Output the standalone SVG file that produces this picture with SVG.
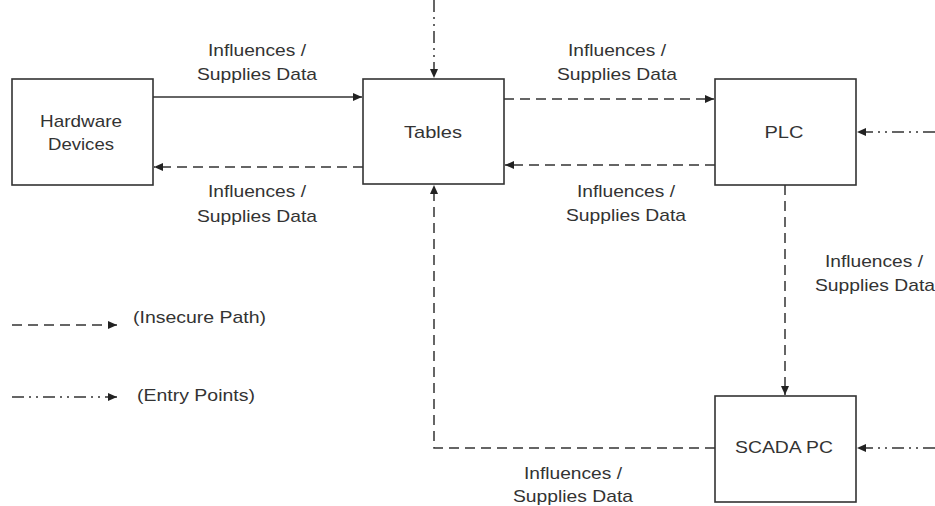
<svg xmlns="http://www.w3.org/2000/svg" width="935" height="506" viewBox="0 0 935 506">
  <defs>
    <marker id="arrow" markerUnits="userSpaceOnUse" markerWidth="10" markerHeight="8" refX="9" refY="4" orient="auto">
      <path d="M0,0 L9,4 L0,8 Z" fill="#222"/>
    </marker>
    <style>
      .box { fill: #fff; stroke: #333; stroke-width: 1.6; }
      .lbl { font-family: "Liberation Sans", Arial, sans-serif; font-size: 17px; fill: #333; text-anchor: middle; }
      .leg { font-family: "Liberation Sans", Arial, sans-serif; font-size: 17px; fill: #333; }
      .solid { fill: none; stroke: #333; stroke-width: 1.5; marker-end: url(#arrow); }
      .insecure { fill: none; stroke: #333; stroke-width: 1.5; stroke-dasharray: 10 6; marker-end: url(#arrow); }
      .entry { fill: none; stroke: #333; stroke-width: 1.5; stroke-dasharray: 12 5 2 5 2 5; marker-end: url(#arrow); }
    </style>
  </defs>
  <rect width="935" height="506" fill="#fff"/>

  <!-- connectors -->
  <g id="connectors">
    <path class="solid" d="M153,97 H362"/>
    <path class="insecure" d="M363,167 H154"/>
    <path class="insecure" d="M504,99 H714"/>
    <path class="insecure" d="M715,165 H505"/>
    <path class="insecure" d="M785,185 V395"/>
    <path class="insecure" d="M715,448 H434 V185"/>
    <path class="entry" d="M434,0 V78"/>
    <path class="entry" d="M935,132 H857"/>
    <path class="entry" d="M935,448 H857"/>
  </g>

  <!-- connector labels -->
  <g id="labels">
    <text class="lbl" x="257" y="56" textLength="98" lengthAdjust="spacingAndGlyphs">Influences /</text>
    <text class="lbl" x="257" y="80" textLength="120" lengthAdjust="spacingAndGlyphs">Supplies Data</text>
    <text class="lbl" x="257" y="197" textLength="98" lengthAdjust="spacingAndGlyphs">Influences /</text>
    <text class="lbl" x="257" y="222" textLength="120" lengthAdjust="spacingAndGlyphs">Supplies Data</text>
    <text class="lbl" x="617" y="56" textLength="98" lengthAdjust="spacingAndGlyphs">Influences /</text>
    <text class="lbl" x="617" y="80" textLength="120" lengthAdjust="spacingAndGlyphs">Supplies Data</text>
    <text class="lbl" x="626" y="197" textLength="98" lengthAdjust="spacingAndGlyphs">Influences /</text>
    <text class="lbl" x="626" y="221" textLength="120" lengthAdjust="spacingAndGlyphs">Supplies Data</text>
    <text class="lbl" x="874" y="267" textLength="98" lengthAdjust="spacingAndGlyphs">Influences /</text>
    <text class="lbl" x="875" y="291" textLength="120" lengthAdjust="spacingAndGlyphs">Supplies Data</text>
    <text class="lbl" x="573" y="479" textLength="98" lengthAdjust="spacingAndGlyphs">Influences /</text>
    <text class="lbl" x="573" y="502" textLength="120" lengthAdjust="spacingAndGlyphs">Supplies Data</text>
  </g>

  <!-- nodes -->
  <g id="hardware-devices">
    <rect class="box" x="12" y="79" width="141" height="106"/>
    <text class="lbl" x="81" y="127" textLength="82" lengthAdjust="spacingAndGlyphs">Hardware</text>
    <text class="lbl" x="81" y="150" textLength="66" lengthAdjust="spacingAndGlyphs">Devices</text>
  </g>
  <g id="tables">
    <rect class="box" x="363" y="79" width="141" height="105"/>
    <text class="lbl" x="433" y="138" textLength="58" lengthAdjust="spacingAndGlyphs">Tables</text>
  </g>
  <g id="plc">
    <rect class="box" x="715" y="79" width="141" height="106"/>
    <text class="lbl" x="784" y="138" textLength="39" lengthAdjust="spacingAndGlyphs">PLC</text>
  </g>
  <g id="scada-pc">
    <rect class="box" x="715" y="396" width="141" height="106"/>
    <text class="lbl" x="784" y="453" textLength="98" lengthAdjust="spacingAndGlyphs">SCADA PC</text>
  </g>

  <!-- legend -->
  <g id="legend">
    <path class="insecure" d="M12,325 H117"/>
    <text class="leg" x="133" y="323" textLength="133" lengthAdjust="spacingAndGlyphs">(Insecure Path)</text>
    <path class="entry" d="M12,397 H117"/>
    <text class="leg" x="137" y="401" textLength="118" lengthAdjust="spacingAndGlyphs">(Entry Points)</text>
  </g>
</svg>
